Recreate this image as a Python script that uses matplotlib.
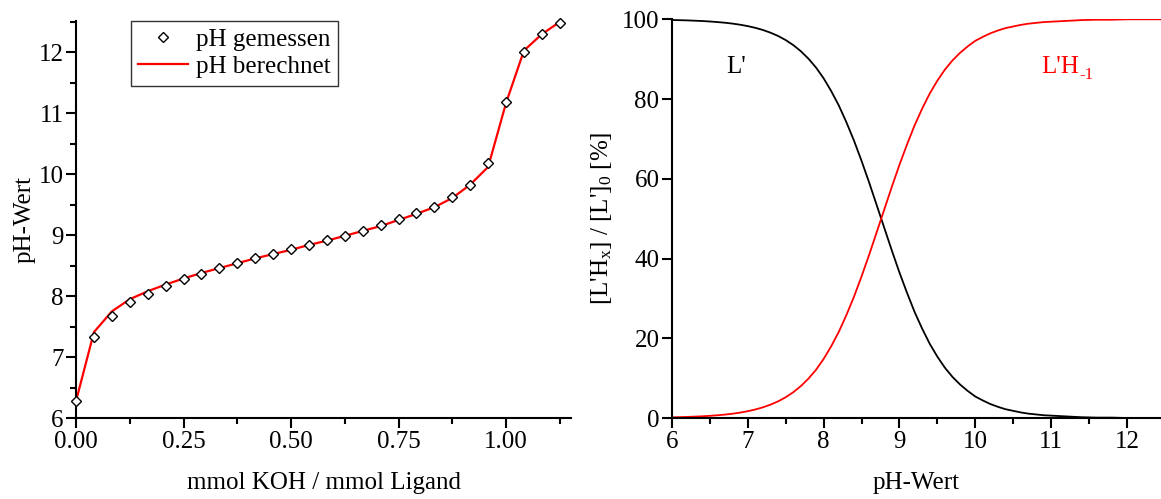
import matplotlib
matplotlib.use("Agg")
import matplotlib.pyplot as plt
from matplotlib.ticker import MultipleLocator

plt.rcParams["font.family"] = ["Liberation Serif", "DejaVu Serif"]
plt.rcParams["mathtext.fontset"] = "custom"
plt.rcParams["mathtext.rm"] = "Liberation Serif"
plt.rcParams["mathtext.it"] = "Liberation Serif"

# titration: equivalents of KOH per ligand (steps of 1/24)
n_steps = 28
koh_eq = [i / 24 for i in range(n_steps)]
ph_measured = [6.28, 7.33, 7.68, 7.90, 8.04, 8.17, 8.28, 8.37, 8.46, 8.54,
               8.62, 8.69, 8.77, 8.84, 8.92, 8.99, 9.07, 9.16, 9.26, 9.36,
               9.47, 9.62, 9.82, 10.19, 11.18, 12.00, 12.30, 12.49]
ph_calc = [6.28, 7.41, 7.75, 7.95, 8.08, 8.19, 8.29, 8.38, 8.46, 8.54,
           8.62, 8.69, 8.76, 8.84, 8.91, 8.99, 9.07, 9.15, 9.25, 9.35,
           9.46, 9.61, 9.83, 10.12, 11.17, 12.03, 12.30, 12.50]

# species distribution
ph_grid = [6.0, 6.1, 6.2, 6.3, 6.4, 6.5, 6.6, 6.7, 6.8, 6.9,
           7.0, 7.1, 7.2, 7.3, 7.4, 7.5, 7.6, 7.7, 7.8, 7.9,
           8.0, 8.1, 8.2, 8.3, 8.4, 8.5, 8.6, 8.7, 8.8, 8.9,
           9.0, 9.1, 9.2, 9.3, 9.4, 9.5, 9.6, 9.7, 9.8, 9.9,
           10.0, 10.1, 10.2, 10.3, 10.4, 10.5, 10.6, 10.7, 10.8, 10.9,
           11.0, 11.2, 11.4, 11.6, 11.8, 12.0, 12.2, 12.5]
pct_LH_m1 = [0.17, 0.22, 0.27, 0.35, 0.43, 0.55, 0.69, 0.86, 1.08, 1.36,
             1.71, 2.14, 2.68, 3.36, 4.18, 5.21, 6.47, 8.01, 9.88, 12.1,
             14.8, 18.0, 21.6, 25.8, 30.4, 35.5, 40.9, 46.6, 52.3, 58.0,
             63.5, 68.6, 73.4, 77.6, 81.4, 84.6, 87.4, 89.7, 91.6, 93.2,
             94.6, 95.6, 96.5, 97.2, 97.8, 98.2, 98.6, 98.9, 99.1, 99.3,
             99.4, 99.6, 99.8, 99.9, 99.9, 100.0, 100.0, 100.0]
pct_L = [99.83, 99.78, 99.73, 99.65, 99.57, 99.45, 99.31, 99.14, 98.92, 98.64,
         98.29, 97.86, 97.32, 96.64, 95.82, 94.79, 93.53, 91.99, 90.12, 87.9,
         85.2, 82.0, 78.4, 74.2, 69.6, 64.5, 59.1, 53.4, 47.7, 42.0,
         36.5, 31.4, 26.6, 22.4, 18.6, 15.4, 12.6, 10.3, 8.4, 6.8,
         5.4, 4.4, 3.5, 2.8, 2.2, 1.8, 1.4, 1.1, 0.9, 0.7,
         0.6, 0.4, 0.2, 0.1, 0.1, 0.0, 0.0, 0.0]

FS = 18

fig = plt.figure(figsize=(11.61, 4.99), dpi=100, facecolor="white")
ax1 = fig.add_axes([0.0655, 0.1623, 0.4263, 0.7962])
ax2 = fig.add_axes([0.5788, 0.1623, 0.4212, 0.7990])


def style(ax):
    for s in ("top", "right"):
        ax.spines[s].set_visible(False)
    for s in ("left", "bottom"):
        ax.spines[s].set_linewidth(1.5)
    ax.tick_params(which="major", direction="out", length=7, width=1.5,
                   labelsize=FS, pad=2)
    ax.tick_params(which="minor", direction="out", length=4, width=1.5)


# left: titration curve
ax1.plot(koh_eq, ph_calc, color="red", lw=1.6, label="pH berechnet",
         zorder=2, clip_on=False)
ax1.plot(koh_eq, ph_measured, ls="none", marker="D", ms=5.5, mfc="white",
         mec="black", mew=1.0, label="pH gemessen", zorder=3, clip_on=False)
ax1.set_xlim(0, 1.151)
ax1.set_ylim(6, 12.52)
ax1.xaxis.set_major_locator(MultipleLocator(0.25))
ax1.xaxis.set_minor_locator(MultipleLocator(0.125))
ax1.yaxis.set_major_locator(MultipleLocator(1))
ax1.yaxis.set_minor_locator(MultipleLocator(0.5))
ax1.xaxis.set_major_formatter(plt.FuncFormatter(lambda v, p: f"{v:.2f}"))
style(ax1)
ax1.set_xlabel("mmol KOH / mmol Ligand", fontsize=FS, labelpad=14)
ax1.set_ylabel("pH-Wert", fontsize=FS, labelpad=2)
h, l = ax1.get_legend_handles_labels()
leg = ax1.legend(h[::-1], l[::-1], loc="upper left",
                 bbox_to_anchor=(0.111, 1.0), fontsize=FS, frameon=True,
                 fancybox=False, edgecolor="black", handlelength=2.0,
                 handletextpad=0.3, borderpad=0.3, labelspacing=0.2,
                 borderaxespad=0)
leg.get_frame().set_linewidth(1.0)

# right: species distribution
ax2.plot(ph_grid, pct_L, color="black", lw=1.3)
ax2.plot(ph_grid, pct_LH_m1, color="red", lw=1.3)
ax2.set_xlim(6, 12.45)
ax2.set_ylim(0, 100)
ax2.xaxis.set_major_locator(MultipleLocator(1))
ax2.xaxis.set_minor_locator(MultipleLocator(0.5))
ax2.yaxis.set_major_locator(MultipleLocator(20))
style(ax2)
ax2.set_xlabel("pH-Wert", fontsize=FS, labelpad=14)
ax2.set_ylabel("[L'H$_\\mathregular{x}$] / [L']$_\\mathregular{0}$ [%]",
               fontsize=FS, labelpad=6)
ax2.text(6.85, 88, "L'", fontsize=FS, ha="center", va="center")
t = ax2.text(10.87, 88, "L'H", fontsize=FS, color="red",
             ha="left", va="center")
ax2.annotate("-1", xy=(1, 0.5), xycoords=t, fontsize=12, color="red",
             ha="left", va="top")

fig.savefig("out.png", dpi=100)
